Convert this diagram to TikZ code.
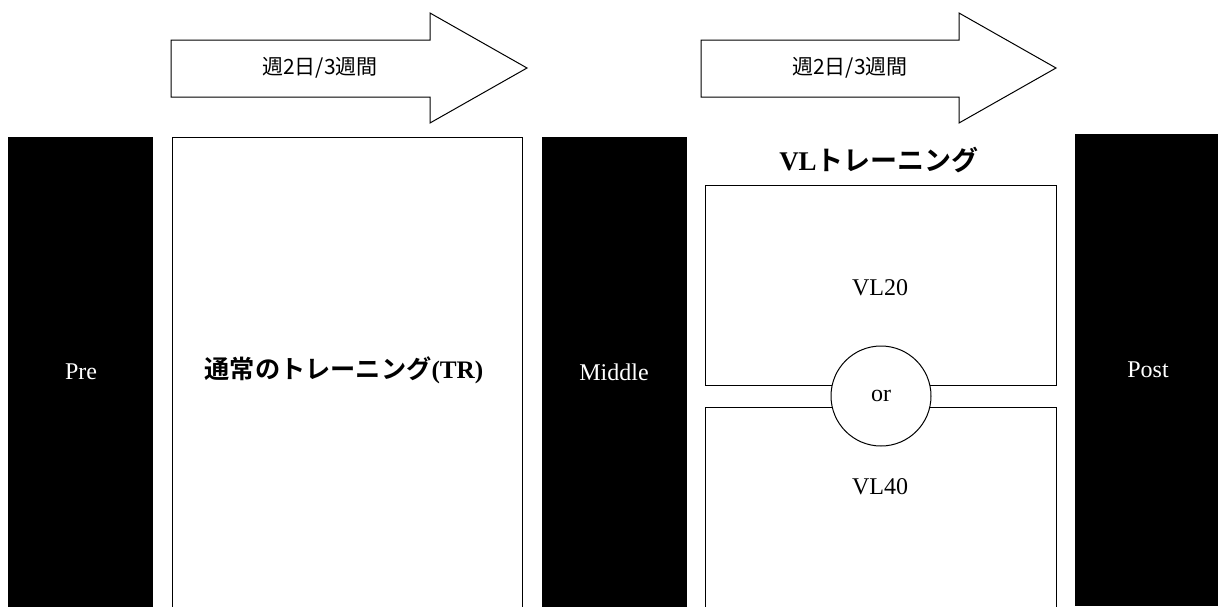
\documentclass[tikz,border=0pt]{standalone}
\usepackage{fontspec}
\setmainfont{Liberation Serif}
\newfontfamily\jp{Noto Sans CJK JP}[BoldFont={Noto Sans CJK JP Bold}]
\begin{document}
\begin{tikzpicture}[x=1pt,y=-1pt,
  blackbox/.style={draw=black,fill=black,line width=1pt,minimum width=144pt,inner sep=0pt},
  whitebox/.style={draw=black,fill=white,line width=1pt,inner sep=0pt},
  lbl/.style={font=\fontsize{24}{28}\selectfont,inner sep=0pt},
  wlbl/.style={lbl,text=white},
  arrowshape/.style={draw=black,fill=white,line width=1pt,line join=miter}]
\useasboundingbox (0,0) rectangle (1218,606);
\clip (0,0) rectangle (1218,606);
% arrows
\draw[arrowshape] (171,40) -- (430,40) -- (430,13) -- (527,68) -- (430,123) -- (430,97) -- (171,97) -- cycle;
\node[font=\jp\fontsize{21}{24}\selectfont,inner sep=0pt] (a1) at (320,68) {週2日/3週間};
\draw[arrowshape] (701,40) -- (959,40) -- (959,13) -- (1056,68) -- (959,123) -- (959,97) -- (701,97) -- cycle;
\node[font=\jp\fontsize{21}{24}\selectfont,inner sep=0pt] (a2) at (850,68) {週2日/3週間};
% columns
\node[blackbox,minimum height=503pt] (pre) at (80,388.5) {};
\node[wlbl] (pret) at (81,372) {Pre};
\node[whitebox,minimum width=350pt,minimum height=503pt] (tr) at (347,388.5) {};
\node[lbl,font=\fontsize{25.2}{28}\selectfont] (trt) at (344,370) {{\jp\bfseries 通常のトレーニング}\textbf{(TR)}};
\node[blackbox,minimum height=503pt] (mid) at (614,388.5) {};
\node[wlbl] (midt) at (614,372) {Middle};
\node[blackbox,minimum width=145pt,minimum height=471pt] (post) at (1147.5,369.5) {};
\node[wlbl] (postt) at (1148,370) {Post};
% VL training
\node[lbl,font=\fontsize{27}{30}\selectfont] (vlt) at (879,160) {\textbf{VL}{\jp\bfseries トレーニング}};
\node[whitebox,minimum width=351pt,minimum height=200pt] (vl20) at (880.5,285) {};
\node[lbl] (vl20t) at (880,288) {VL20};
\node[whitebox,minimum width=351pt,minimum height=233pt] (vl40) at (880.5,523.5) {};
\node[lbl] (vl40t) at (880,487) {VL40};
\node[circle,draw=black,fill=white,line width=1pt,minimum size=100pt,inner sep=0pt,font=\fontsize{24}{28}\selectfont] (or) at (881,396) {or};
\end{tikzpicture}
\end{document}
